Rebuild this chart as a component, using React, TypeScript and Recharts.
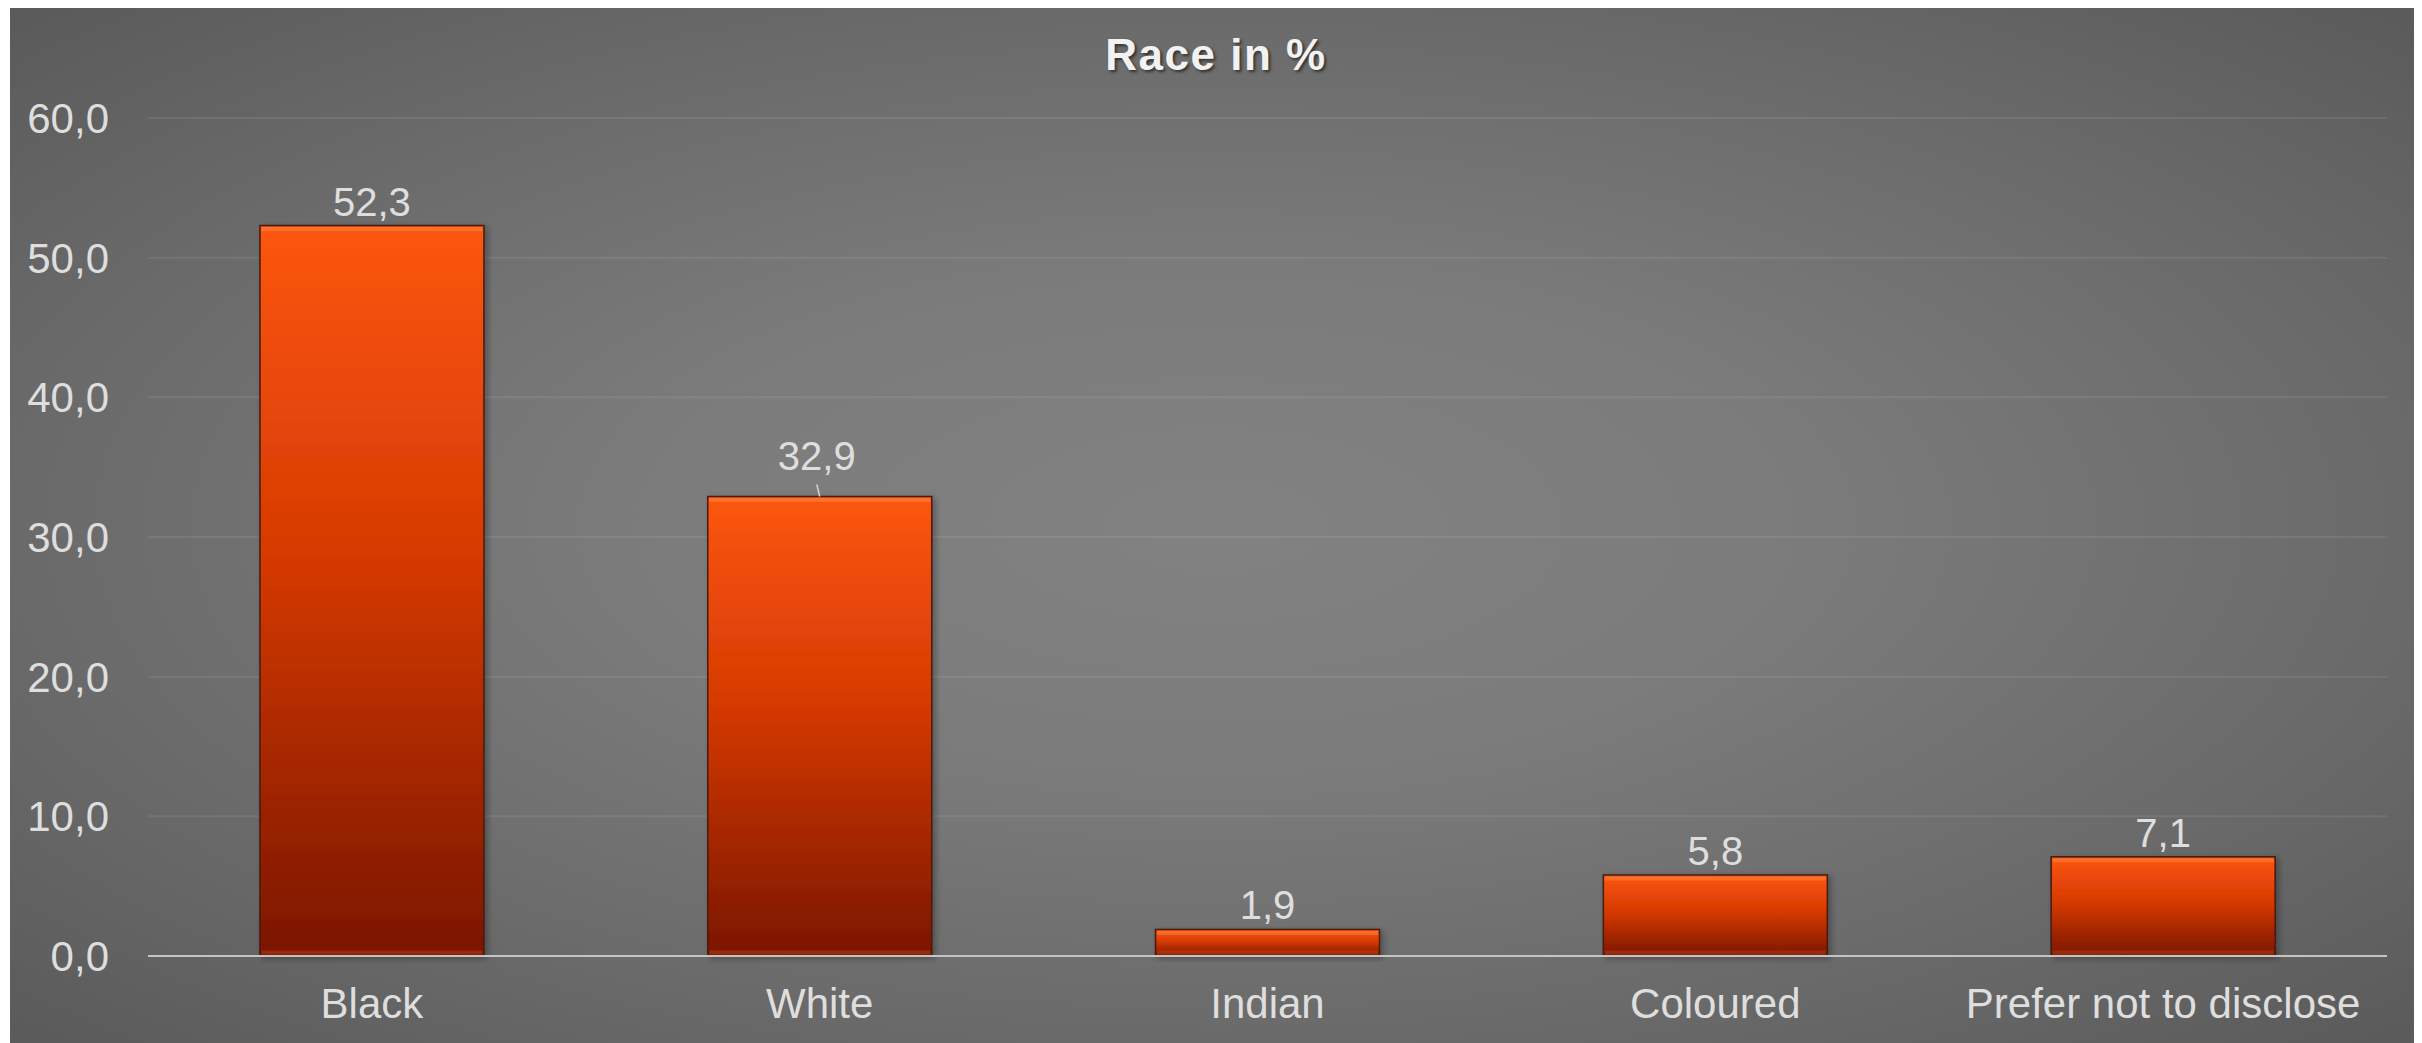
import { BarChart, Bar, XAxis, YAxis, CartesianGrid, LabelList } from "recharts"

const categories = ["Black", "White", "Indian", "Coloured", "Prefer not to disclose"]
const raceShare = [52.3, 32.9, 1.9, 5.8, 7.1]
const yTicks = [0, 10, 20, 30, 40, 50, 60]

// the White label sits a little higher with a short leader line
const LIFTED_LABEL = "White"

const data = categories.map((name, i) => ({ name, value: raceShare[i] }))

const FONT = '"Liberation Sans", Arial, sans-serif'
const fmt = (v: number) => v.toFixed(1).replace(".", ",")

const BevelBar = (props: any) => {
  const { x, y, width, height } = props
  if (!height || height <= 0) return null
  const b = Math.min(4, height / 5)
  return (
    <g filter="url(#barShadow)">
      <rect x={x} y={y} width={width} height={height} fill="url(#barFill)" stroke="#461a0c" strokeWidth={1.5} />
      <rect x={x + 1.5} y={y + 1.5} width={width - 3} height={b} fill="rgba(255,160,90,0.35)" />
      <rect x={x + 1.5} y={y + height - b - 1.5} width={width - 3} height={b} fill="rgba(255,110,50,0.22)" />
    </g>
  )
}

const DataLabel = (props: any) => {
  const vb = props.viewBox ?? props
  const { x, y, width } = vb
  const cx = x + width / 2
  const label = fmt(Number(props.value))
  const style = { fontFamily: FONT, fontSize: 40, fill: "#dedede" }
  if (categories[props.index] === LIFTED_LABEL) {
    return (
      <g>
        <line x1={cx - 3} y1={y - 12} x2={cx} y2={y} stroke="#d0d0d0" strokeWidth={1.5} />
        <text x={cx - 3} y={y - 26} textAnchor="middle" {...style}>
          {label}
        </text>
      </g>
    )
  }
  return (
    <text x={cx} y={y - 10} textAnchor="middle" {...style}>
      {label}
    </text>
  )
}

export default function App() {
  return (
    <div
      style={{
        position: "relative",
        marginLeft: 2,
        width: 2412,
        height: 1035,
        background: "radial-gradient(ellipse at 50% 50%, #828282 0%, #7b7b7b 35%, #6a6a6a 70%, #5a5a5a 100%)",
      }}
    >
      <div
        style={{
          position: "absolute",
          top: 25,
          left: 0,
          width: "100%",
          textAlign: "center",
          fontFamily: FONT,
          fontSize: 44,
          lineHeight: "44px",
          fontWeight: "bold",
          letterSpacing: 1.5,
          color: "#f2f2f2",
          textShadow: "2px 2px 3px rgba(0,0,0,0.55)",
        }}
      >
        Race in %
      </div>
      <BarChart
        width={2412}
        height={1035}
        data={data}
        margin={{ top: 110, right: 35, left: 0, bottom: 0 }}
        barCategoryGap="25%"
      >
        <defs>
          <linearGradient id="barFill" x1="0" y1="0" x2="0" y2="1">
            <stop offset="0%" stopColor="#fc5612" />
            <stop offset="45%" stopColor="#d63a02" />
            <stop offset="100%" stopColor="#7a1600" />
          </linearGradient>
          <filter id="barShadow" x="-10%" y="-10%" width="130%" height="130%">
            <feDropShadow dx="3" dy="2" stdDeviation="3" floodColor="#000" floodOpacity="0.3" />
          </filter>
        </defs>
        <CartesianGrid vertical={false} stroke="rgba(255,255,255,0.08)" strokeWidth={2} />
        <XAxis
          dataKey="name"
          height={87}
          tickLine={false}
          axisLine={{ stroke: "#c4c4c4", strokeWidth: 2 }}
          tickSize={0}
          tickMargin={32}
          tick={{ fill: "#dedede", fontSize: 42, fontFamily: FONT }}
          interval={0}
        />
        <YAxis
          width={138}
          domain={[0, 60]}
          ticks={yTicks}
          tickFormatter={fmt}
          tickLine={false}
          axisLine={false}
          tickSize={0}
          tickMargin={39}
          tick={{ fill: "#dedede", fontSize: 42, fontFamily: FONT }}
        />
        <Bar dataKey="value" shape={BevelBar} isAnimationActive={false}>
          <LabelList dataKey="value" content={DataLabel} />
        </Bar>
      </BarChart>
    </div>
  )
}
